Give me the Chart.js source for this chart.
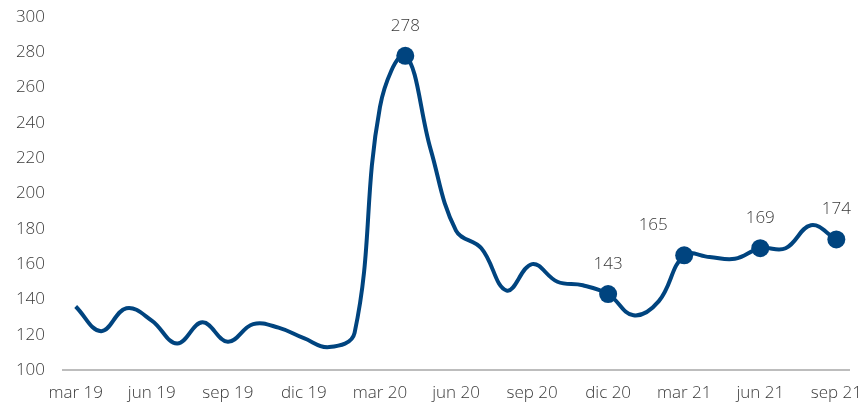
<!DOCTYPE html>
<html>
<head>
<meta charset="utf-8">
<script src="https://cdn.jsdelivr.net/npm/chart.js@4/dist/chart.umd.min.js"></script>
<style>
    html, body { margin: 0; padding: 0; background: #fff; }
    #wrap { width: 868px; height: 405px; }
</style>
</head>
<body>
<div id="wrap"><canvas id="chart-index"></canvas></div>
<script>
const months = [
    'mar 19', 'abr 19', 'may 19', 'jun 19', 'jul 19', 'ago 19', 'sep 19', 'oct 19', 'nov 19', 'dic 19',
    'ene 20', 'feb 20', 'mar 20', 'abr 20', 'may 20', 'jun 20', 'jul 20', 'ago 20', 'sep 20', 'oct 20',
    'nov 20', 'dic 20', 'ene 21', 'feb 21', 'mar 21', 'abr 21', 'may 21', 'jun 21', 'jul 21', 'ago 21',
    'sep 21'
];
const values = [
    136, 122, 135, 128, 115, 127, 116, 126, 124, 118,
    113, 121, 249, 278, 225, 179, 169, 145, 160, 150,
    148, 143, 131, 139, 165, 164, 163, 169, 169, 182,
    174
];
// months that get a marker and a value label
const marked = [13, 21, 24, 27, 30];

const navy = '#00447f';
const textColor = '#3a3a3a';
const fontFamily = '"Open Sans", Lato, sans-serif';

function createPointRadius(count) {
    const radius = [];
    for (let i = 0; i < count; i++) {
        radius.push(marked.includes(i) ? 9 : 0);
    }
    return radius;
}

const valueLabels = {
    id: 'valueLabels',
    afterDatasetsDraw(chart) {
        const ctx = chart.ctx;
        const meta = chart.getDatasetMeta(0);
        ctx.save();
        ctx.font = '300 17px ' + fontFamily;
        ctx.fillStyle = textColor;
        ctx.textAlign = 'center';
        ctx.textBaseline = 'middle';
        marked.forEach(i => {
            const pt = meta.data[i];
            // the label of the rise in mar 21 sits up and to the left
            const dx = i === 24 ? -31 : 0;
            ctx.fillText(String(values[i]), pt.x + dx, pt.y - 30);
        });
        ctx.restore();
    }
};

const ctx = document.getElementById('chart-index');
const chart = new Chart(ctx, {
    type: 'line',
    data: {
        labels: months,
        datasets: [{
            data: values,
            borderColor: navy,
            backgroundColor: navy,
            borderWidth: 4,
            tension: 0.4,
            pointRadius: createPointRadius(values.length),
            pointHoverRadius: createPointRadius(values.length),
            pointBackgroundColor: navy,
            pointBorderWidth: 0,
        }]
    },
    options: {
        responsive: true,
        maintainAspectRatio: false,
        animation: false,
        layout: { padding: { top: 17, right: 19, left: 0, bottom: 0 } },
        plugins: {
            legend: { display: false },
            tooltip: { enabled: false },
        },
        scales: {
            x: {
                offset: true,
                grid: { display: false, drawTicks: false },
                border: { display: true, color: '#bdbdbd', width: 2 },
                afterFit(scale) {
                    scale.height = 35;
                    scale.paddingLeft = 0;
                    scale.paddingRight = 0;
                },
                ticks: {
                    autoSkip: false,
                    maxRotation: 0,
                    padding: 13,
                    color: textColor,
                    font: { family: fontFamily, size: 17, weight: 300 },
                    callback(value, index) {
                        return index % 3 === 0 ? months[index] : '';
                    }
                }
            },
            y: {
                min: 100,
                max: 300,
                grid: { display: false, drawTicks: false },
                border: { display: false },
                afterFit(scale) {
                    scale.width = 63;
                    scale.paddingTop = 0;
                    scale.paddingBottom = 0;
                },
                ticks: {
                    stepSize: 20,
                    padding: 18,
                    color: textColor,
                    font: { family: fontFamily, size: 17, weight: 300 },
                }
            }
        }
    },
    plugins: [valueLabels]
});
</script>
</body>
</html>
